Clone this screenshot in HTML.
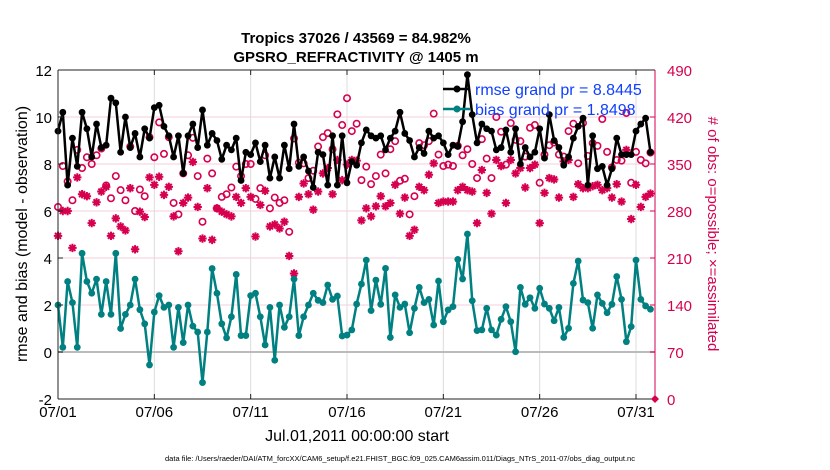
<!DOCTYPE html>
<html><head><meta charset="utf-8"><style>
body{margin:0;background:#fff;}
svg{display:block;font-family:"Liberation Sans",sans-serif;}
</style></head><body>
<svg id="chart" width="830" height="470" viewBox="0 0 830 470" xmlns="http://www.w3.org/2000/svg">
<text x="356" y="43" text-anchor="middle" font-size="15" font-weight="bold">Tropics 37026 / 43569 = 84.982%</text>
<text x="356" y="62" text-anchor="middle" font-size="15" font-weight="bold">GPSRO_REFRACTIVITY @ 1405 m</text>
<g id="grid"></g><g id="marks"></g><g id="axes"></g>
<text transform="translate(27,234) rotate(-90)" text-anchor="middle" font-size="16">rmse and bias (model - observation)</text>
<text transform="translate(708,234) rotate(90)" text-anchor="middle" font-size="15" fill="#d6004f"># of obs: o=possible; ×=assimilated</text>
<text x="357" y="441" text-anchor="middle" font-size="16">Jul.01,2011 00:00:00 start</text>
<text x="400" y="461" text-anchor="middle" font-size="7.5">data file: /Users/raeder/DAI/ATM_forcXX/CAM6_setup/f.e21.FHIST_BGC.f09_025.CAM6assim.011/Diags_NTrS_2011-07/obs_diag_output.nc</text>
<g>
<line x1="443" y1="89" x2="470" y2="89" stroke="#000" stroke-width="2.5"/><circle cx="457" cy="89" r="3.5" fill="#000"/>
<text x="475" y="95" font-size="16" fill="#1040ff">rmse grand pr = 8.8445</text>
<line x1="443" y1="109" x2="470" y2="109" stroke="#008080" stroke-width="2.5"/><circle cx="457" cy="109" r="3.5" fill="#008080"/>
<text x="475" y="115" font-size="16" fill="#1040ff">bias grand pr = 1.8498</text>
</g>
</svg>
<script>
const rmse=[9.4,10.2,7.1,9.1,7.9,10.2,9.5,8.3,9.7,8.7,8.8,10.8,10.6,8.5,10.0,8.7,9.3,8.3,9.5,9.1,10.4,10.5,9.6,9.2,8.3,9.2,7.6,9.2,9.7,8.7,10.3,8.8,9.3,9.0,8.2,8.8,8.6,9.1,7.3,8.5,8.4,8.9,8.1,8.8,7.4,8.3,7.4,8.8,7.8,9.7,7.9,8.3,7.7,7.0,8.5,8.4,7.1,9.2,
7.1,9.2,7.2,8.1,7.95,8.9,9.45,9.2,9.1,9.2,8.6,9.1,9.4,10.2,9.3,9.0,8.3,8.7,8.45,9.4,9.1,9.2,8.9,8.4,8.8,8.75,9.8,11.8,10.1,8.9,9.7,9.5,9.4,8.6,8.7,9.45,8.5,9.5,8.0,8.7,8.3,8.5,9.5,8.25,10.1,9.0,8.7,7.95,8.3,9.1,9.6,9.95,7.1,9.2,7.8,7.9,7.1,7.8,9.1,8.4,8.4,8.4,9.4,9.7,9.95,8.5];
const bias=[2.0,0.2,3.0,2.1,0.2,4.2,3.0,2.5,3.1,1.6,3.0,1.6,4.2,1.0,1.6,2.0,3.1,1.8,1.2,-0.55,1.7,2.4,1.9,2.0,0.2,1.9,0.4,2.0,1.1,0.85,-1.3,0.85,3.55,2.5,1.2,0.6,1.5,3.3,0.7,0.7,2.4,2.5,1.5,0.3,1.9,-0.35,2.0,1.05,1.5,3.1,0.7,1.5,2.0,2.5,2.2,2.1,2.85,
2.24,2.38,0.68,0.72,0.94,2.04,2.89,3.91,1.76,3.06,2.03,3.56,0.62,2.43,1.9,2.04,0.82,1.86,2.75,2.1,2.24,1.15,3.02,1.29,1.79,1.93,3.94,3.11,5.02,2.18,0.91,0.94,1.86,0.94,0.72,1.39,1.93,1.29,0.01,2.75,2.03,2.31,1.86,2.71,2.04,1.86,1.33,1.9,0.62,1.01,2.92,3.87,2.21,2.1,1.01,2.43,2.07,1.67,2.03,3.21,2.24,0.44,1.08,3.91,2.24,1.96,1.82];
const possible=[286,347,324,296,371,344,360,350,363,373,318,299,332,311,296,376,280,312,302,390,360,412,365,390,292,275,336,363,389,332,264,358,336,284,301,305,315,346,332,350,350,298,314,363,284,300,292,296,249,388,352,351,329,340,376,390,396,
372,424,408,448,399,410,326,346,320,332,364,336,372,384,325,328,275,302,381,378,384,425,364,347,349,347,377,363,372,350,329,387,358,329,420,398,349,411,386,384,361,404,408,322,364,378,382,364,361,399,410,351,411,362,381,377,417,368,345,356,355,426,322,368,356,351,367];
const assimilated=[243,280,280,225,330,305,302,262,293,309,316,243,269,257,251,314,223,279,271,330,319,331,304,316,272,220,292,300,353,286,239,314,237,284,279,275,272,301,292,314,301,242,289,310,257,260,254,264,213,187,301,321,305,282,309,336,344,
305,356,326,349,356,355,266,284,272,287,302,287,292,319,276,300,243,252,316,311,334,351,292,294,294,294,311,316,311,309,262,341,307,276,356,347,292,356,336,344,315,344,349,262,307,329,327,300,354,356,301,320,314,314,317,319,311,314,300,320,294,371,268,319,286,301,306];
const xTickLabels=["07/01","07/06","07/11","07/16","07/21","07/26","07/31"];
const xTickDays=[0,5,10,15,20,25,30];
const yTicks=[-2,0,2,4,6,8,10,12];
const rTicks=[0,70,140,210,280,350,420,490];

const L=58,R=655,T=70,B=399,NS="http://www.w3.org/2000/svg";
const xDay=d=>L+d*(636-L)/30;
const xIdx=i=>xDay(i*0.25);
const yL=v=>B-(v+2)*(B-T)/14;
const yR=v=>B-v*(B-T)/490;
function mk(tag,attrs,parent){const e=document.createElementNS(NS,tag);for(const k in attrs)e.setAttribute(k,attrs[k]);parent.appendChild(e);return e;}
const grid=document.getElementById('grid'),marks=document.getElementById('marks'),axes=document.getElementById('axes');
xTickDays.forEach((d,k)=>{
 const g=mk('line',{x1:xDay(d),x2:xDay(d),y1:T,y2:B,stroke:'#dcdcdc','stroke-width':1},grid);
 
 
 const t=mk('text',{x:xDay(d),y:417,'text-anchor':'middle','font-size':15},axes);
 t.textContent=xTickLabels[k];
 
 
 mk('line',{x1:xDay(d),x2:xDay(d),y1:B,y2:B-5,stroke:'#222'},axes);
 mk('line',{x1:xDay(d),x2:xDay(d),y1:T,y2:T+5,stroke:'#222'},axes);
});
rTicks.forEach(v=>{
 const g=mk('line',{x1:L,x2:R,y1:yR(v),y2:yR(v),stroke:'#f6cfdc','stroke-width':1},grid);
 
 
 const t=mk('text',{x:R+12,y:yR(v)+6,'font-size':15,fill:'#d6004f'},axes);
 t.textContent=v;
 
 
 mk('line',{x1:R,x2:R-5,y1:yR(v),y2:yR(v),stroke:'#d6004f'},axes);
});
yTicks.forEach(v=>{
 const t=mk('text',{x:L-6,y:yL(v)+6,'text-anchor':'end','font-size':15},axes);
 t.textContent=v;
 
 
 mk('line',{x1:L,x2:L+5,y1:yL(v),y2:yL(v),stroke:'#222'},axes);
});
const zl=mk('line',{x1:L,x2:R,y1:yL(0),y2:yL(0),stroke:'#bbbbbb','stroke-width':2},grid);


possible.forEach((v,i)=>{
 const c=mk('circle',{cx:xIdx(i),cy:yR(v),r:3.2,fill:'none',stroke:'#d6004f','stroke-width':1.6},marks);
 
 
});
assimilated.forEach((v,i)=>{
 const x=xIdx(i),y=yR(v),r=4.2,q=r*0.707;
 const d=`M${x-r} ${y}H${x+r}M${x} ${y-r}V${y+r}M${x-q} ${y-q}L${x+q} ${y+q}M${x-q} ${y+q}L${x+q} ${y-q}`;
 const s=mk('path',{d:d,stroke:'#d6004f','stroke-width':2,fill:'none'},marks);
 
 
});
function series(arr,color,name){
 const p=mk('polyline',{points:arr.map((v,i)=>xIdx(i)+','+yL(v)).join(' '),fill:'none',stroke:color,'stroke-width':2.5,'stroke-linejoin':'round'},marks);
 
 
 arr.forEach((v,i)=>{
  const c=mk('circle',{cx:xIdx(i),cy:yL(v),r:3.4,fill:color},marks);
  
  
 });
}
series(bias,'#008080','bias');
series(rmse,'#000000','rmse');
mk('line',{x1:L,x2:R,y1:T,y2:T,stroke:'#222'},axes);
mk('line',{x1:L,x2:R,y1:B,y2:B,stroke:'#222'},axes);
mk('line',{x1:L,x2:L,y1:T,y2:B,stroke:'#222'},axes);
mk('line',{x1:R,x2:R,y1:T,y2:B,stroke:'#d6004f'},axes);
const dm=mk('path',{d:`M${R} ${B-4} L${R+4} ${B} L${R} ${B+4} L${R-4} ${B} Z`,fill:'#d6004f'},axes);


</script>
</body></html>
